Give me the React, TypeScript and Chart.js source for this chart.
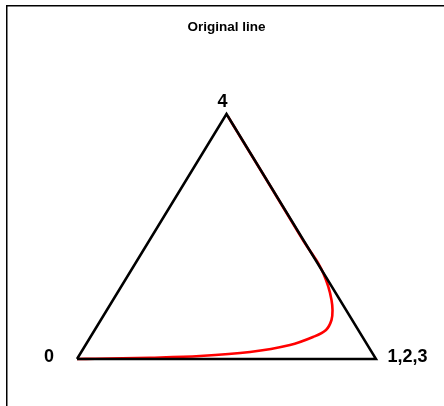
import React, { useEffect, useRef } from "react";
import { Chart, registerables } from "chart.js";

Chart.register(...registerables);

// Simplex corners: labels for the three groups of states
const vertexLabels = ["0", "1,2,3", "4"];

// Probability path: mass in state 0, in states 1,2,3 and in state 4
const probState0 = [
  1.0, 0.9392, 0.7532, 0.5825, 0.4071, 0.2591, 0.1658, 0.108, 0.0692, 0.0455,
  0.0284, 0.012, 0.0051, 0.0026, 0.0014, 0.0009, 0.0014, 0.001, 0.001, 0.0008,
  0.0005, 0.0003, 0.0001,
];
const probStates123 = [
  0.0, 0.06, 0.2415, 0.4053, 0.5643, 0.6838, 0.7444, 0.7736, 0.7716, 0.7545,
  0.7308, 0.6929, 0.6488, 0.6117, 0.5692, 0.5264, 0.4843, 0.399, 0.2995, 0.1997,
  0.0995, 0.0497, 0.0099,
];
const probState4 = [
  0.0, 0.0008, 0.0053, 0.0122, 0.0286, 0.0571, 0.0898, 0.1184, 0.1592, 0.2,
  0.2408, 0.2951, 0.3498, 0.3906, 0.4314, 0.4722, 0.5143, 0.6, 0.7, 0.8,
  0.9, 0.95, 0.99,
];

const chartTitle = "Original line";

const H = Math.sqrt(3) / 2;
// barycentric (p123, p4) -> plane
const toXY = (p123: number, p4: number) => ({ x: p123 + 0.5 * p4, y: p4 * H });

const corners = [toXY(0, 0), toXY(1, 0), toXY(0, 1)];

export default function App() {
  const ref = useRef<HTMLCanvasElement | null>(null);

  useEffect(() => {
    const canvas = ref.current;
    if (!canvas) return;

    const triangle = [...corners, corners[0]];
    const path = probStates123.map((p, i) => toXY(p, probState4[i]));

    const overlay = {
      id: "simplexText",
      beforeDraw(chart: any) {
        const ctx = chart.ctx;
        ctx.save();
        ctx.fillStyle = "#ffffff";
        ctx.fillRect(0, 0, chart.width, chart.height);
        // frame
        ctx.fillStyle = "#000000";
        ctx.fillRect(6, 5, chart.width, 1.5);
        ctx.fillRect(6, 5, 1.5, chart.height);
        ctx.restore();
      },
      afterDatasetsDraw(chart: any) {
        const ctx = chart.ctx;
        const xs = chart.scales.x;
        const ys = chart.scales.y;
        ctx.save();
        ctx.fillStyle = "#000000";
        ctx.textBaseline = "alphabetic";
        ctx.font = "bold 13.5px 'Liberation Sans', Arial, sans-serif";
        ctx.textAlign = "center";
        ctx.fillText(chartTitle, 226.5, 30.5);

        ctx.font = "bold 18px 'Liberation Sans', Arial, sans-serif";
        const offsets = [
          { dx: -28, dy: 3.3, align: "center" },
          { dx: 11.5, dy: 3.3, align: "left" },
          { dx: -4, dy: -6.7, align: "center" },
        ];
        corners.forEach((c, i) => {
          const px = xs.getPixelForValue(c.x);
          const py = ys.getPixelForValue(c.y);
          ctx.textAlign = offsets[i].align;
          ctx.fillText(vertexLabels[i], px + offsets[i].dx, py + offsets[i].dy);
        });
        ctx.restore();
      },
    };

    const chart = new Chart(canvas, {
      type: "scatter",
      data: {
        datasets: [
          {
            data: triangle,
            showLine: true,
            borderColor: "#000000",
            borderWidth: 2.5,
            pointRadius: 0,
            tension: 0,
            borderJoinStyle: "miter",
          },
          {
            data: path,
            showLine: true,
            borderColor: "#ff0000",
            borderWidth: 2.6,
            pointRadius: 0,
            tension: 0.35,
          },
        ],
      },
      options: {
        animation: false,
        responsive: false,
        devicePixelRatio: 1,
        layout: { padding: 0 },
        plugins: {
          legend: { display: false },
          tooltip: { enabled: false },
          title: { display: false },
        },
        scales: {
          x: { type: "linear", min: -77 / 299, max: 367 / 299, display: false },
          y: {
            type: "linear",
            min: (-47 / 245) * H,
            max: (359 / 245) * H,
            display: false,
          },
        },
      },
      plugins: [overlay],
    } as any);

    return () => chart.destroy();
  }, []);

  return (
    <div style={{ position: "fixed", left: 0, top: 0, width: 444, height: 406 }}>
      <canvas ref={ref} width={444} height={406} style={{ display: "block" }} />
    </div>
  );
}
